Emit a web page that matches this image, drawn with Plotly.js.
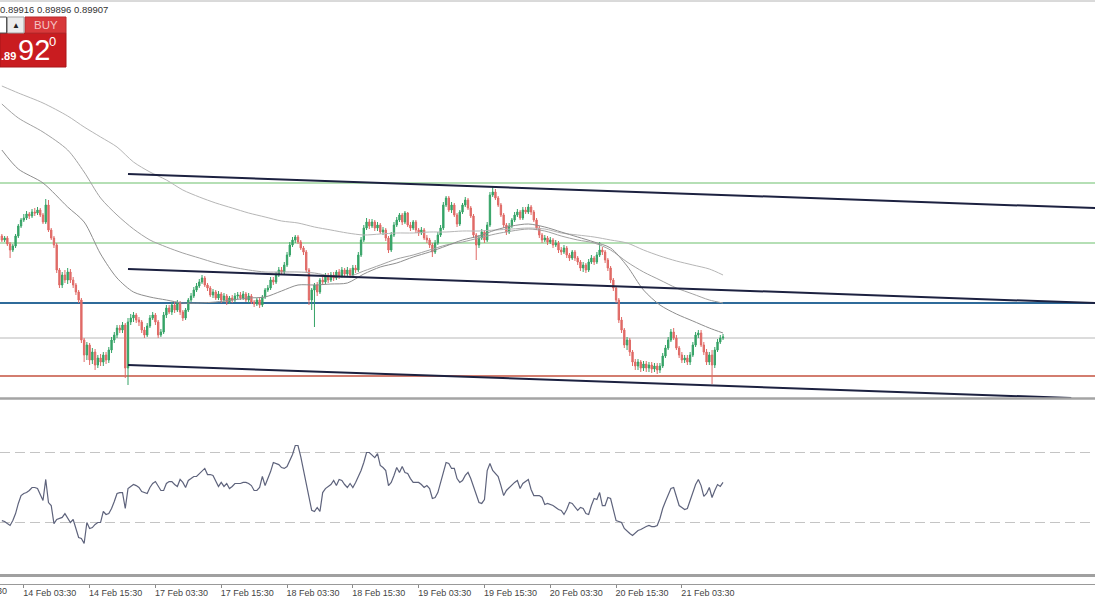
<!DOCTYPE html>
<html><head><meta charset="utf-8">
<script src="https://cdn.plot.ly/plotly-3.0.1.min.js"></script>
<style>html,body{margin:0;padding:0;background:#fff;overflow:hidden}#chart{width:1095px;height:600px}</style>
</head><body><div id="chart"></div>
<script>
// ---- DATA (M30 bars; index 0 = 14 Feb 03:30) ----
const FIRST_BAR = -8;
const openP = [
0.90064,0.90060,0.90062,0.90056,0.90050,0.90054,0.90064,0.90074,
0.90080,0.90082,0.90086,0.90084,0.90088,0.90087,0.90090,0.90085,0.90078,0.90095,
0.90070,0.90062,0.90055,0.90030,0.90015,0.90025,0.90020,0.90028,0.90020,0.90015,
0.90008,0.90000,0.89960,0.89945,0.89955,0.89940,0.89948,0.89935,0.89942,0.89938,
0.89945,0.89940,0.89950,0.89960,0.89965,0.89972,0.89970,0.89975,0.89932,0.89978,
0.89982,0.89985,0.89980,0.89978,0.89970,0.89965,0.89974,0.89982,0.89985,0.89978,
0.89965,0.89968,0.89985,0.89992,0.89988,0.89995,0.89990,0.89997,0.89988,0.89982,
0.89990,0.90000,0.90004,0.90010,0.90014,0.90018,0.90022,0.90015,0.90012,0.90005,
0.90008,0.90002,0.90006,0.90000,0.90004,0.89998,0.90002,0.90000,0.90004,0.90005,
0.90002,0.90006,0.90000,0.90004,0.89998,0.89996,0.90000,0.89995,0.90003,0.90010,
0.90012,0.90020,0.90018,0.90025,0.90030,0.90028,0.90035,0.90045,0.90055,0.90060,
0.90063,0.90058,0.90052,0.90048,0.90030,0.90000,0.90010,0.90015,0.90008,0.90020,
0.90018,0.90024,0.90020,0.90025,0.90022,0.90028,0.90024,0.90030,0.90026,0.90030,
0.90025,0.90032,0.90030,0.90045,0.90060,0.90072,0.90078,0.90074,0.90078,0.90072,
0.90075,0.90068,0.90070,0.90062,0.90050,0.90065,0.90075,0.90080,0.90085,0.90078,
0.90087,0.90075,0.90072,0.90078,0.90070,0.90067,0.90070,0.90062,0.90060,0.90055,
0.90048,0.90057,0.90065,0.90072,0.90095,0.90102,0.90090,0.90095,0.90085,0.90076,
0.90088,0.90095,0.90100,0.90092,0.90084,0.90065,0.90055,0.90062,0.90068,0.90060,
0.90075,0.90105,0.90108,0.90102,0.90095,0.90085,0.90075,0.90068,0.90074,0.90080,
0.90085,0.90088,0.90082,0.90090,0.90088,0.90093,0.90088,0.90080,0.90072,0.90065,
0.90060,0.90062,0.90058,0.90060,0.90055,0.90057,0.90050,0.90048,0.90052,0.90045,
0.90042,0.90048,0.90042,0.90038,0.90032,0.90035,0.90030,0.90038,0.90042,0.90038,
0.90045,0.90050,0.90048,0.90040,0.90032,0.90020,0.90012,0.90000,0.89980,0.89970,
0.89955,0.89960,0.89948,0.89938,0.89934,0.89938,0.89932,0.89936,0.89932,0.89935,
0.89931,0.89934,0.89930,0.89934,0.89944,0.89952,0.89960,0.89968,0.89962,0.89952,
0.89945,0.89940,0.89942,0.89938,0.89945,0.89955,0.89965,0.89967,0.89955,0.89948,
0.89938,0.89945,0.89935,0.89950,0.89958,0.89962];
const highP = [
0.90066,0.90064,0.90064,0.90058,0.90056,0.90066,0.90076,0.90082,
0.90086,0.90089,0.90088,0.90091,0.90092,0.90093,0.90092,0.90087,0.90101,0.90100,
0.90072,0.90064,0.90057,0.90032,0.90028,0.90030,0.90032,0.90031,0.90023,0.90017,
0.90010,0.90002,0.89962,0.89958,0.89957,0.89952,0.89951,0.89945,0.89946,0.89948,
0.89948,0.89953,0.89963,0.89968,0.89975,0.89975,0.89978,0.89977,0.89982,0.89986,
0.89988,0.89987,0.89983,0.89980,0.89973,0.89977,0.89985,0.89988,0.89987,0.89980,
0.89971,0.89988,0.89995,0.89995,0.89998,0.89998,0.90000,0.89999,0.89990,0.89992,
0.90002,0.90007,0.90013,0.90017,0.90021,0.90025,0.90024,0.90017,0.90014,0.90011,
0.90010,0.90009,0.90008,0.90007,0.90006,0.90004,0.90005,0.90007,0.90008,0.90008,
0.90009,0.90008,0.90007,0.90006,0.90000,0.90002,0.90003,0.90005,0.90012,0.90015,
0.90023,0.90023,0.90028,0.90033,0.90033,0.90038,0.90048,0.90058,0.90063,0.90065,
0.90065,0.90060,0.90054,0.90050,0.90032,0.90012,0.90017,0.90018,0.90022,0.90023,
0.90027,0.90027,0.90028,0.90028,0.90030,0.90031,0.90033,0.90032,0.90033,0.90032,
0.90035,0.90035,0.90048,0.90063,0.90075,0.90082,0.90081,0.90081,0.90080,0.90078,
0.90077,0.90073,0.90072,0.90064,0.90068,0.90078,0.90083,0.90087,0.90087,0.90089,
0.90088,0.90078,0.90080,0.90080,0.90072,0.90073,0.90072,0.90065,0.90062,0.90057,
0.90060,0.90068,0.90075,0.90098,0.90104,0.90104,0.90098,0.90097,0.90087,0.90090,
0.90097,0.90103,0.90102,0.90094,0.90086,0.90067,0.90065,0.90071,0.90070,0.90078,
0.90108,0.90114,0.90111,0.90104,0.90097,0.90087,0.90077,0.90077,0.90082,0.90088,
0.90091,0.90090,0.90093,0.90093,0.90096,0.90095,0.90090,0.90082,0.90074,0.90067,
0.90065,0.90064,0.90063,0.90062,0.90060,0.90059,0.90053,0.90055,0.90054,0.90047,
0.90050,0.90050,0.90044,0.90040,0.90038,0.90037,0.90041,0.90045,0.90044,0.90048,
0.90058,0.90053,0.90050,0.90042,0.90034,0.90022,0.90014,0.90002,0.89983,0.89972,
0.89963,0.89962,0.89950,0.89941,0.89941,0.89940,0.89939,0.89939,0.89938,0.89938,
0.89937,0.89937,0.89937,0.89947,0.89955,0.89963,0.89971,0.89972,0.89965,0.89954,
0.89948,0.89945,0.89945,0.89948,0.89958,0.89968,0.89970,0.89970,0.89958,0.89951,
0.89948,0.89950,0.89953,0.89961,0.89965,0.89966];
const lowP = [
0.90058,0.90058,0.90054,0.90042,0.90048,0.90052,0.90062,0.90072,
0.90078,0.90080,0.90081,0.90082,0.90084,0.90085,0.90083,0.90076,0.90076,0.90068,
0.90060,0.90052,0.90027,0.90012,0.90012,0.90017,0.90016,0.90017,0.90012,0.90005,
0.89997,0.89957,0.89938,0.89940,0.89935,0.89936,0.89930,0.89932,0.89934,0.89934,
0.89936,0.89937,0.89947,0.89957,0.89962,0.89967,0.89967,0.89922,0.89915,0.89975,
0.89978,0.89977,0.89974,0.89967,0.89962,0.89963,0.89972,0.89980,0.89975,0.89962,
0.89963,0.89966,0.89982,0.89986,0.89985,0.89987,0.89988,0.89985,0.89979,0.89980,
0.89988,0.89998,0.90002,0.90008,0.90012,0.90016,0.90013,0.90009,0.90003,0.90002,
0.90000,0.90000,0.89997,0.89998,0.89995,0.89996,0.89997,0.89998,0.90001,0.90000,
0.90000,0.89998,0.89997,0.89996,0.89993,0.89994,0.89992,0.89993,0.90001,0.90008,
0.90010,0.90015,0.90016,0.90023,0.90025,0.90026,0.90033,0.90043,0.90053,0.90057,
0.90056,0.90050,0.90045,0.90027,0.89995,0.89990,0.89973,0.90004,0.90006,0.90015,
0.90016,0.90017,0.90018,0.90019,0.90020,0.90021,0.90022,0.90023,0.90024,0.90022,
0.90023,0.90027,0.90028,0.90043,0.90058,0.90070,0.90071,0.90072,0.90069,0.90069,
0.90066,0.90065,0.90059,0.90047,0.90048,0.90063,0.90073,0.90078,0.90075,0.90076,
0.90073,0.90069,0.90070,0.90067,0.90064,0.90065,0.90060,0.90057,0.90052,0.90043,
0.90046,0.90055,0.90063,0.90070,0.90093,0.90088,0.90087,0.90083,0.90073,0.90074,
0.90086,0.90093,0.90090,0.90082,0.90062,0.90040,0.90052,0.90060,0.90057,0.90058,
0.90073,0.90103,0.90100,0.90093,0.90083,0.90072,0.90065,0.90066,0.90072,0.90078,
0.90083,0.90080,0.90080,0.90086,0.90086,0.90085,0.90078,0.90070,0.90062,0.90057,
0.90058,0.90055,0.90056,0.90052,0.90053,0.90047,0.90045,0.90046,0.90042,0.90039,
0.90040,0.90039,0.90035,0.90029,0.90028,0.90027,0.90028,0.90036,0.90035,0.90036,
0.90043,0.90045,0.90037,0.90029,0.90017,0.90009,0.89997,0.89977,0.89967,0.89952,
0.89950,0.89944,0.89934,0.89930,0.89930,0.89928,0.89929,0.89928,0.89928,0.89927,
0.89928,0.89926,0.89927,0.89932,0.89942,0.89950,0.89958,0.89960,0.89950,0.89942,
0.89937,0.89937,0.89935,0.89935,0.89943,0.89953,0.89962,0.89953,0.89945,0.89935,
0.89935,0.89916,0.89932,0.89948,0.89956,0.89960];
const closeP = [
0.90060,0.90062,0.90056,0.90050,0.90054,0.90064,0.90074,0.90080,
0.90082,0.90086,0.90084,0.90088,0.90087,0.90090,0.90085,0.90078,0.90095,0.90070,
0.90062,0.90055,0.90030,0.90015,0.90025,0.90020,0.90028,0.90020,0.90015,0.90008,
0.90000,0.89960,0.89945,0.89955,0.89940,0.89948,0.89935,0.89942,0.89938,0.89945,
0.89940,0.89950,0.89960,0.89965,0.89972,0.89970,0.89975,0.89932,0.89978,0.89982,
0.89985,0.89980,0.89978,0.89970,0.89965,0.89974,0.89982,0.89985,0.89978,0.89965,
0.89968,0.89985,0.89992,0.89988,0.89995,0.89990,0.89997,0.89988,0.89982,0.89990,
0.90000,0.90004,0.90010,0.90014,0.90018,0.90022,0.90015,0.90012,0.90005,0.90008,
0.90002,0.90006,0.90000,0.90004,0.89998,0.90002,0.90000,0.90004,0.90005,0.90002,
0.90006,0.90000,0.90004,0.89998,0.89996,0.90000,0.89995,0.90003,0.90010,0.90012,
0.90020,0.90018,0.90025,0.90030,0.90028,0.90035,0.90045,0.90055,0.90060,0.90063,
0.90058,0.90052,0.90048,0.90030,0.90000,0.90010,0.90015,0.90008,0.90020,0.90018,
0.90024,0.90020,0.90025,0.90022,0.90028,0.90024,0.90030,0.90026,0.90030,0.90025,
0.90032,0.90030,0.90045,0.90060,0.90072,0.90078,0.90074,0.90078,0.90072,0.90075,
0.90068,0.90070,0.90062,0.90050,0.90065,0.90075,0.90080,0.90085,0.90078,0.90087,
0.90075,0.90072,0.90078,0.90070,0.90067,0.90070,0.90062,0.90060,0.90055,0.90048,
0.90057,0.90065,0.90072,0.90095,0.90102,0.90090,0.90095,0.90085,0.90076,0.90088,
0.90095,0.90100,0.90092,0.90084,0.90065,0.90055,0.90062,0.90068,0.90060,0.90075,
0.90105,0.90108,0.90102,0.90095,0.90085,0.90075,0.90068,0.90074,0.90080,0.90085,
0.90088,0.90082,0.90090,0.90088,0.90093,0.90088,0.90080,0.90072,0.90065,0.90060,
0.90062,0.90058,0.90060,0.90055,0.90057,0.90050,0.90048,0.90052,0.90045,0.90042,
0.90048,0.90042,0.90038,0.90032,0.90035,0.90030,0.90038,0.90042,0.90038,0.90045,
0.90050,0.90048,0.90040,0.90032,0.90020,0.90012,0.90000,0.89980,0.89970,0.89955,
0.89960,0.89948,0.89938,0.89934,0.89938,0.89932,0.89936,0.89932,0.89935,0.89931,
0.89934,0.89930,0.89934,0.89944,0.89952,0.89960,0.89968,0.89962,0.89952,0.89945,
0.89940,0.89942,0.89938,0.89945,0.89955,0.89965,0.89967,0.89955,0.89948,0.89938,
0.89945,0.89935,0.89950,0.89958,0.89962,0.89963];
const rsi = [
31.1,30.6,29.4,28.3,31.1,35.1,40.9,45.4,
46.6,47.1,48.3,50.0,50.0,49.4,46.0,42.6,54.6,41.4,
39.7,29.4,31.7,32.3,32.9,35.1,32.3,30.0,31.7,26.6,
21.4,20.9,18.0,30.0,26.6,27.1,28.9,30.0,30.0,36.3,
34.6,35.1,38.0,42.0,46.6,47.1,47.1,38.0,49.4,50.6,
51.7,51.1,50.0,47.7,47.1,46.6,50.0,52.3,53.4,50.6,
48.3,48.3,52.3,53.4,53.4,51.7,50.6,54.6,52.9,50.0,
54.0,55.1,56.3,56.3,58.0,59.7,60.9,57.4,57.4,56.9,
54.0,50.6,52.9,50.6,52.3,49.4,50.6,52.3,52.3,52.3,
52.9,52.9,52.3,51.1,48.3,48.3,50.0,56.3,51.1,55.1,
59.1,64.3,63.7,63.1,61.4,60.9,62.0,65.4,68.9,74.0,
74.0,67.7,60.3,53.4,46.0,36.9,36.3,38.6,36.3,47.1,
49.4,50.6,51.7,54.0,51.1,54.6,54.0,51.7,50.0,52.3,
50.0,52.9,56.3,59.7,64.3,70.0,70.0,68.3,67.1,69.4,
62.6,61.4,59.7,51.1,52.9,56.9,61.4,58.6,62.0,58.6,
58.0,55.1,52.9,52.9,52.9,51.7,50.0,51.1,49.4,43.7,
44.3,47.1,52.9,59.7,64.3,63.7,60.9,60.9,55.1,52.9,
54.0,56.9,58.6,55.1,50.6,44.9,41.4,40.9,43.1,59.7,
63.7,59.7,58.0,56.3,51.1,45.4,48.3,50.0,51.1,52.9,
54.0,49.4,52.3,53.4,54.6,48.9,45.4,45.4,45.4,44.3,
40.3,40.9,40.3,39.7,38.6,37.4,36.9,34.6,37.4,41.4,
40.9,38.6,36.9,38.6,38.0,35.1,34.6,39.7,43.7,43.1,
47.1,39.7,39.7,44.3,43.7,37.4,31.1,30.6,30.0,26.6,
24.9,23.7,22.6,24.3,25.4,26.0,27.1,27.7,28.3,27.7,
27.7,28.3,32.3,38.0,42.0,45.4,49.4,50.0,44.3,39.7,
38.6,37.4,38.0,42.6,47.1,51.7,54.6,51.1,44.9,46.6,
50.0,44.3,48.3,51.7,50.6,52.9];
const maBars = [-8,-2,7,16,22,28,34,40,46,52,58,64,70,76,82,88,94,100,106,112,118,124,130,136,142,148,154,160,166,172,178,184,190,196,202,208,214,220,226,232,238,244,250,255];
const maSlow = [0.90214,0.90207,0.90197,0.90184,0.90173,0.90163,0.90153,0.90138,0.90128,0.90120,0.90110,0.90103,0.90097,0.90092,0.90087,0.90083,0.90079,0.90077,0.90073,0.90070,0.90067,0.90065,0.90066,0.90067,0.90067,0.90068,0.90068,0.90069,0.90069,0.90070,0.90071,0.90072,0.90071,0.90067,0.90065,0.90063,0.90060,0.90057,0.90050,0.90044,0.90039,0.90035,0.90031,0.90025];
const maMid = [0.90196,0.90182,0.90168,0.90150,0.90128,0.90102,0.90085,0.90071,0.90060,0.90053,0.90047,0.90042,0.90037,0.90033,0.90030,0.90028,0.90028,0.90028,0.90027,0.90024,0.90023,0.90029,0.90035,0.90041,0.90045,0.90050,0.90055,0.90058,0.90062,0.90066,0.90069,0.90071,0.90069,0.90064,0.90060,0.90057,0.90050,0.90038,0.90028,0.90020,0.90012,0.90006,0.90000,0.89997];
const maFast = [0.90150,0.90131,0.90117,0.90093,0.90078,0.90046,0.90022,0.90008,0.90003,0.90000,0.89997,0.89997,0.89998,0.90000,0.90002,0.90003,0.90009,0.90015,0.90015,0.90016,0.90017,0.90026,0.90033,0.90037,0.90043,0.90048,0.90054,0.90060,0.90064,0.90070,0.90074,0.90076,0.90073,0.90068,0.90063,0.90058,0.90052,0.90034,0.90010,0.89995,0.89986,0.89979,0.89972,0.89967];
const hLevels = [0.90117, 0.90057, 0.89997, 0.89962, 0.89924];
const trendLines = [[38,0.90126,400,0.90091],[38,0.90031,400,0.89996],[38,0.89935,382,0.89902]];
const rsiLevels = [70, 30];
const tickBars = [0,24,48,72,96,120,144,168,192,216,240];
const tickLabels = ['14 Feb 03:30','14 Feb 15:30','17 Feb 03:30','17 Feb 15:30','18 Feb 03:30','18 Feb 15:30','19 Feb 03:30','19 Feb 15:30','20 Feb 03:30','20 Feb 15:30','21 Feb 03:30'];
const prevTickLabel = '13 Feb 15:30';
const headerText = '0.89916 0.89896 0.89907';
const askBig = '92', askSmall = '.89', askPoint = '0', buyLabel = 'BUY';

// ---- STYLE / LAYOUT ----
const bars = openP.map((_, i) => FIRST_BAR + i);
const W = 1095, PB = 584;
const px = v => v / W;
const py = v => (PB - v) / PB;
const FONT = 'Liberation Sans, Arial, sans-serif';
const levelColors = ['#6cbf6c','#6cbf6c','#2f6b9a','#b8b8b8','#c4523f'];
const levelWidths = [1.2,1.2,1.8,1,1.6];

const traces = [
  {type:'scatter',mode:'lines',x:maBars,y:maSlow,line:{color:'#b6b6b6',width:1,shape:'spline',smoothing:0.8},hoverinfo:'skip'},
  {type:'scatter',mode:'lines',x:maBars,y:maMid,line:{color:'#a2a2a2',width:1,shape:'spline',smoothing:0.8},hoverinfo:'skip'},
  {type:'scatter',mode:'lines',x:maBars,y:maFast,line:{color:'#8e8e8e',width:1,shape:'spline',smoothing:0.8},hoverinfo:'skip'},
  {type:'candlestick',x:bars,open:openP,high:highP,low:lowP,close:closeP,
   increasing:{line:{color:'#35a366',width:1},fillcolor:'#35a366'},
   decreasing:{line:{color:'#e06a66',width:1},fillcolor:'#e06a66'},
   whiskerwidth:0,hoverinfo:'skip'},
  {type:'scatter',mode:'lines',x:bars,y:rsi,yaxis:'y2',line:{color:'#5e637c',width:1.2},hoverinfo:'skip'}
];

const shapes = [];
hLevels.forEach((v,i)=>shapes.push({type:'line',xref:'paper',yref:'y',x0:0,x1:1,y0:v,y1:v,layer:'below',line:{color:levelColors[i],width:levelWidths[i]}}));
trendLines.forEach(t=>shapes.push({type:'line',xref:'x',yref:'y',x0:t[0],y0:t[1],x1:t[2],y1:t[3],line:{color:'#1c2140',width:2}}));
rsiLevels.forEach(v=>shapes.push({type:'line',xref:'paper',yref:'y2',x0:0,x1:1,y0:v,y1:v,layer:'below',line:{color:'#c4c4c4',width:1,dash:'10px,5px'}}));
// panel borders
shapes.push({type:'line',xref:'paper',yref:'paper',x0:0,x1:1,y0:py(1),y1:py(1),line:{color:'#b4b4b4',width:1}});
shapes.push({type:'line',xref:'paper',yref:'paper',x0:0,x1:1,y0:py(398.5),y1:py(398.5),line:{color:'#a4a4a4',width:2.5}});
shapes.push({type:'line',xref:'paper',yref:'paper',x0:0,x1:1,y0:py(575.5),y1:py(575.5),line:{color:'#a0a0a0',width:3}});
// one-click trading panel
shapes.push({type:'rect',xref:'paper',yref:'paper',x0:px(0),x1:px(66),y0:py(67),y1:py(33),fillcolor:'#c91c20',line:{color:'#a81418',width:1}});
shapes.push({type:'rect',xref:'paper',yref:'paper',x0:px(25),x1:px(66),y0:py(33),y1:py(17),fillcolor:'#d8383a',line:{color:'#b82a2c',width:1}});
shapes.push({type:'rect',xref:'paper',yref:'paper',x0:px(7.5),x1:px(24),y0:py(33),y1:py(17),fillcolor:'#ececec',line:{color:'#a0a0a0',width:1}});
shapes.push({type:'rect',xref:'paper',yref:'paper',x0:px(-3),x1:px(6.5),y0:py(33),y1:py(17),fillcolor:'#ffffff',line:{color:'#555',width:1}});

const ann = (text,x,y,size,color,xanchor,extra) => Object.assign({text,xref:'paper',yref:'paper',x:px(x),y:py(y),xanchor:xanchor||'center',yanchor:'middle',showarrow:false,font:{family:FONT,size,color}},extra||{});
const annotations = [
  ann(headerText,-2,10,9.5,'#333','left'),
  ann(prevTickLabel,9,591,9,'#444','right'),
  ann(buyLabel,45.5,25.5,11.5,'#f5c2c2','center'),
  ann('▲',15.8,25,8,'#222','center'),
  ann(askSmall,-1.5,56,11,'#ffffff','left',{font:{family:FONT,size:11,color:'#fff',weight:'bold'}}),
  ann(askBig,16,50,29,'#ffffff','left'),
  ann(askPoint,47,41,13,'#ffffff','left')
];

const layout = {
  width:1095,height:600,margin:{l:0,r:0,t:0,b:16,pad:0},
  paper_bgcolor:'#ffffff',plot_bgcolor:'#ffffff',showlegend:false,
  xaxis:{range:[-8.68,390.66],rangeslider:{visible:false},tickmode:'array',tickvals:tickBars,ticktext:tickLabels,
    ticks:'outside',ticklen:3,tickcolor:'#8a8a8a',showline:true,linecolor:'#999',linewidth:1,showgrid:false,zeroline:false,
    anchor:'free',position:0,ticklabelshift:26,ticklabelstandoff:-3,tickfont:{family:FONT,size:9,color:'#444'},fixedrange:true},
  yaxis:{domain:[0.31849,1],range:[0.89902,0.90300],visible:false,fixedrange:true},
  yaxis2:{domain:[0,0.31507],range:[-5.14,100],visible:false,fixedrange:true},
  shapes,annotations
};
Plotly.newPlot('chart',traces,layout,{displayModeBar:false,staticPlot:true});
</script>
</body></html>
